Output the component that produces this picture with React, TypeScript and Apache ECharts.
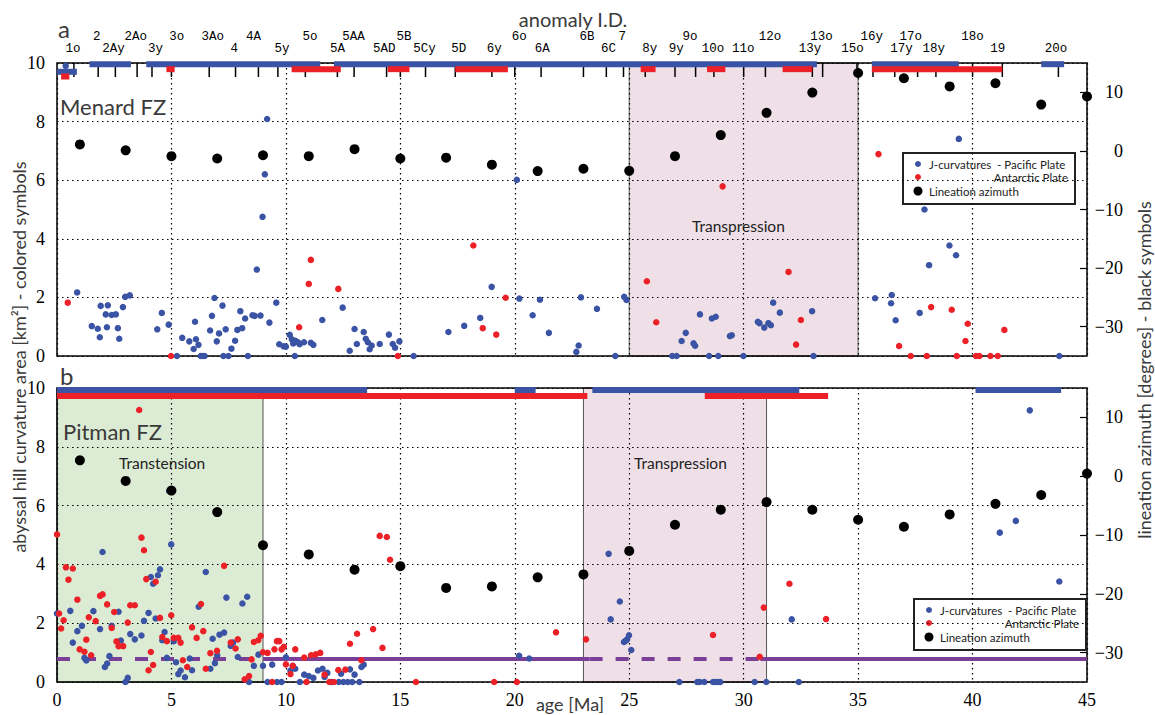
import React, { useEffect, useRef } from "react";
import * as echarts from "echarts";

// ---------- Data ----------
const anomalyNames = ["1o","2","2Ay","2Ao","3y","3o","3Ao","4","4A","5y","5o","5A","5AA","5AD","5B","5Cy","5D","6y","6o","6A","6B","6C","7","8y","9y","9o","10o","11o","12o","13y","13o","15o","16y","17y","17o","18y","18o","19","20o"];
const anomalyTicks = [0.74,1.8,2.55,3.5,4.15,5.0,6.65,7.8,8.8,9.65,10.85,12.25,12.98,14.4,15.0,16.1,17.4,19.0,20.0,21.15,23.0,24.0,24.75,25.7,27.0,27.9,28.7,30.0,30.95,33.0,33.45,34.95,35.65,36.6,37.6,38.4,40.0,41.3,43.75];
const anomalyLabelAges = [0.7,1.74,2.47,3.44,4.3,5.23,6.8,7.74,8.58,9.83,11.05,12.25,12.95,14.3,15.16,16.06,17.55,19.1,20.2,21.2,23.15,24.1,24.7,25.9,27.06,27.65,28.66,29.98,31.15,32.9,33.4,34.75,35.6,36.9,37.3,38.3,40.0,41.1,43.65];
const anomalyRows = [1,0,1,0,1,0,0,1,0,1,0,1,0,1,0,1,1,1,0,1,0,1,0,1,1,0,1,1,0,1,0,1,0,1,0,1,0,1,1];

// Menard FZ (panel a)
const blueA: number[][] = [[0.38,9.9],[0.88,2.17],[1.52,1.02],[1.78,0.93],[1.87,0.64],[1.91,1.71],[2.13,1.42],[2.18,0.98],[2.22,1.73],[2.39,1.40],[2.57,1.42],[2.66,0.95],[2.72,0.59],[2.88,1.67],[2.98,2.02],[3.18,2.07],[4.38,0.91],[4.58,1.47],[4.88,1.07],[5.24,0],[5.47,0.62],[5.78,0.50],[5.97,0.24],[6.03,1.17],[6.07,0.57],[6.18,0.38],[6.28,0],[6.36,0],[6.45,0],[6.69,0.87],[6.77,1.37],[6.88,1.98],[6.98,0.50],[7.08,0.77],[7.23,1.72],[7.27,0],[7.37,0.91],[7.49,0],[7.62,0.25],[7.78,0.52],[7.88,0.89],[8.01,1.53],[8.09,0.95],[8.22,1.28],[8.34,0],[8.54,1.39],[8.64,1.37],[8.73,2.95],[8.89,1.38],[8.98,4.75],[9.08,6.20],[9.18,8.09],[9.28,1.14],[9.58,1.82],[9.71,0.40],[9.90,0.33],[10.0,0.32],[10.17,0.72],[10.26,0.57],[10.32,0.43],[10.39,0],[10.42,0.52],[10.53,0.47],[10.6,0.40],[10.79,0.47],[11.09,0.45],[11.2,0.38],[11.59,1.23],[12.48,1.65],[12.79,0.18],[13.0,0.92],[13.1,0.41],[13.4,0.82],[13.49,0.59],[13.58,0.47],[13.66,0.23],[13.75,0.36],[14.1,0.41],[14.5,0.73],[14.67,0.41],[14.77,0.28],[14.96,0.5],[15.58,0],[17.1,0.82],[17.79,1.03],[18.49,1.30],[18.99,2.36],[20.09,6.01],[20.2,1.96],[20.78,1.39],[21.1,1.92],[21.49,0.79],[22.69,0.14],[22.79,0.36],[22.89,2.0],[23.59,1.61],[24.39,0],[24.78,2.02],[24.88,1.91],[26.88,0],[27.07,0],[27.29,0.51],[27.47,0.79],[27.81,0.43],[27.88,0.35],[28.09,1.42],[28.49,0],[28.61,1.28],[28.78,1.34],[28.89,0],[29.4,0.68],[29.48,0.71],[29.99,0],[30.62,1.17],[30.69,1.12],[30.9,0.97],[31.08,1.12],[31.19,1.05],[31.29,1.82],[31.58,1.48],[32.99,1.53],[33.05,0],[35.74,1.97],[36.44,1.8],[36.47,2.08],[36.64,1.22],[37.69,1.47],[37.9,5.0],[38.1,3.1],[38.99,3.77],[39.28,3.44],[39.4,7.41],[43.79,0]];
const redA: number[][] = [[0.47,1.82],[4.98,0],[10.58,0.98],[11.0,2.46],[11.09,3.28],[12.29,2.29],[14.89,0],[18.19,3.77],[18.6,0.95],[19.19,0.73],[19.6,1.99],[25.77,2.55],[26.18,1.15],[29.08,5.79],[31.96,2.87],[32.29,0.39],[32.5,1.23],[35.89,6.89],[36.79,0.34],[37.3,0],[38.0,0],[38.19,1.67],[39.09,1.58],[39.31,0],[39.69,0.51],[39.79,1.1],[40.15,0],[40.3,0],[40.78,0],[41.1,0],[41.39,0.89]];
const azimuthA: number[][] = [[1,1.1],[3,0.1],[5,-0.9],[7,-1.3],[9,-0.75],[11,-0.9],[13,0.3],[15,-1.3],[17,-1.15],[19,-2.35],[21,-3.45],[23,-3.05],[25,-3.4],[27,-0.9],[29,2.7],[31,6.5],[33,9.95],[35,13.3],[37,12.4],[39,11.0],[41,11.55],[43,7.9],[45,9.3]];
const pacificBarsA: number[][] = [[0,0.87,9.7],[1.42,3.23,9.96],[3.9,11.5,9.96],[12.1,33.2,9.96],[35.6,39.4,9.96],[43.0,44.0,9.96]];
const antarcticBarsA: number[][] = [[0.18,0.54,9.54],[4.78,5.14,9.79],[10.25,12.4,9.79],[14.45,15.4,9.79],[17.4,19.7,9.79],[25.5,26.15,9.79],[28.4,29.2,9.79],[31.7,33.0,9.79],[35.6,41.3,9.79]];
const regionsA: number[][] = [[25,35]];

// Pitman FZ (panel b)
const blueB: number[][] = [[0,2.33],[0.58,2.42],[0.69,1.34],[0.89,1.73],[1.09,1.91],[1.2,0.82],[1.28,0.73],[1.59,2.41],[1.88,1.8],[1.99,4.42],[2.09,0.51],[2.19,0.63],[2.29,0.88],[2.39,1.91],[2.69,2.39],[2.79,1.41],[2.99,0],[3.09,0.14],[3.2,1.63],[3.4,1.45],[3.69,1.58],[3.8,2.08],[4.0,2.35],[4.1,3.57],[4.2,3.34],[4.31,2.16],[4.41,3.63],[4.5,3.83],[4.6,1.42],[4.7,1.7],[4.8,0.82],[4.9,6.5],[4.99,4.68],[5.1,1.39],[5.2,0.67],[5.3,0.27],[5.4,0.39],[5.59,0.16],[5.8,0.8],[5.9,0.4],[6.19,2.56],[6.5,3.74],[6.7,0.45],[6.8,1.47],[6.9,0.64],[7.0,0.91],[7.1,1.61],[7.3,1.68],[7.4,2.87],[7.59,1.23],[7.69,1.34],[7.9,0.85],[8.1,2.67],[8.31,2.9],[8.39,0],[8.6,0.55],[8.8,0.93],[9.0,0.55],[9.2,0],[9.4,0.59],[9.61,0],[9.81,0],[10.0,0.84],[10.2,0.39],[10.3,0.55],[10.41,0.45],[10.61,0],[10.8,0.25],[11.0,0.2],[11.2,0.14],[11.4,0.39],[11.6,0.45],[11.69,0.17],[11.81,0.31],[12.0,0],[12.31,0],[12.41,0.28],[12.51,0],[12.7,0],[12.8,0.43],[12.9,0],[13.0,0.25],[13.21,0],[13.3,0.51],[13.4,0.59],[20.19,0.89],[20.63,0.8],[24.1,4.36],[24.19,2.13],[24.59,2.74],[24.77,1.36],[24.84,1.40],[24.91,1.45],[24.99,1.59],[25.09,1.09],[27.19,0],[27.97,0],[28.08,0],[28.28,0],[28.66,0],[28.76,0],[28.87,0],[28.98,0],[30.48,0],[30.99,0],[32.1,2.13],[32.41,0],[41.19,5.08],[41.89,5.48],[42.5,9.24],[43.79,3.42]];
const redB: number[][] = [[0,5.02],[0.09,2.33],[0.18,1.82],[0.29,2.1],[0.39,3.9],[0.5,3.48],[0.69,3.86],[0.89,2.8],[0.99,1.11],[1.2,1.03],[1.28,1.44],[1.39,2.2],[1.49,0.91],[1.69,2.07],[1.88,2.93],[1.99,2.98],[2.19,2.64],[2.39,1.84],[2.5,2.38],[2.6,1.38],[2.69,1.22],[2.89,1.22],[3.09,2.02],[3.2,2.61],[3.4,2.61],[3.59,9.25],[3.69,4.91],[3.8,4.48],[3.9,3.5],[4.0,0.4],[4.1,1.02],[4.2,0.58],[4.31,3.41],[4.5,2.18],[4.6,1.53],[4.8,1.39],[4.99,2.27],[5.1,1.5],[5.3,1.5],[5.4,1.34],[5.5,0.74],[5.69,0.51],[5.9,1.86],[6.1,1.5],[6.29,2.65],[6.39,1.73],[6.5,0.45],[6.7,0.98],[6.99,1.06],[7.3,3.95],[7.59,1.34],[7.8,1.14],[7.9,1.45],[8.2,0.09],[8.39,0.2],[8.5,0.77],[8.6,1.36],[8.79,1.42],[8.9,1.57],[9.0,1.01],[9.2,0.99],[9.4,0],[9.5,1.11],[9.61,1.39],[9.71,1.39],[9.81,1.11],[9.91,1.2],[10.0,0.6],[10.2,0.27],[10.3,0.55],[10.41,1.11],[10.8,0.83],[10.9,0],[11.1,0.91],[11.3,0.94],[11.5,0.99],[11.69,0.25],[11.9,0],[12.1,0],[12.29,0.41],[12.6,0.42],[12.8,1.3],[13.11,1.64],[13.3,0.74],[13.81,1.8],[14.1,4.97],[14.22,1.16],[14.41,4.93],[14.55,4.16],[15.68,0],[19.1,0],[20.09,0],[21.8,1.69],[23.11,1.45],[28.66,1.6],[30.7,0.86],[30.88,2.53],[32.0,3.34],[33.6,2.14]];
const azimuthB: number[][] = [[1,2.7],[3,-0.8],[5,-2.45],[7,-6.1],[9,-11.75],[11,-13.3],[13,-15.9],[15,-15.3],[17,-19.0],[19,-18.75],[21,-17.2],[23,-16.7],[25,-12.7],[27,-8.25],[29,-5.7],[31,-4.4],[33,-5.7],[35,-7.4],[37,-8.6],[39,-6.5],[41,-4.7],[43,-3.2],[45,0.45]];
const pacificBarsB: number[][] = [[0,13.55,9.93],[20.0,20.91,9.93],[23.39,32.43,9.93],[40.13,43.87,9.93]];
const antarcticBarsB: number[][] = [[0,23.17,9.73],[28.3,33.69,9.73]];
const regionsB: number[][] = [[0,9],[23,31]];
const purpleSegments: number[][] = [[0,9,0.78,1],[9,23.27,0.78,0],[23.27,30.73,0.78,1],[30.73,45,0.78,0]]; // [x0,x1,y,dashed]

const rightTicks = [-30, -20, -10, 0, 10];

// ---------- Styles ----------
const BLUE = "#3a53a4";
const RED = "#ec2027";
const PURPLE = "#7b3f98";
const PINK = "#efdfe7";
const GREEN = "#dcebd3";
const SANS = "Lato";
const SERIF = "Liberation Serif";
const MONO = "Liberation Mono";
const TEXTGRAY = "#3a3a3a";

const fmtRight = (v: number) => (v % 10 !== 0 ? "" : v < 0 ? "\u2212" + Math.abs(v) : String(v));

function barSeries(data: number[][], color: string, gi: number, yi: number) {
  return {
    type: "custom",
    xAxisIndex: gi,
    yAxisIndex: yi,
    z: 4,
    clip: false,
    silent: true,
    data,
    encode: { x: [0, 1], y: 2 },
    renderItem: (params: any, api: any) => {
      const a = api.coord([api.value(0), api.value(2)]);
      const b = api.coord([api.value(1), api.value(2)]);
      return { type: "rect", shape: { x: a[0], y: a[1] - 3, width: b[0] - a[0], height: 6 }, style: { fill: color } };
    },
  };
}

function regionSeries(data: number[][], colors: string[], gi: number, yi: number) {
  return {
    type: "custom",
    xAxisIndex: gi,
    yAxisIndex: yi,
    z: -1,
    silent: true,
    data,
    encode: { x: [0, 1] },
    renderItem: (params: any, api: any) => {
      const a = api.coord([api.value(0), 10]);
      const b = api.coord([api.value(1), 0]);
      return {
        type: "rect",
        shape: { x: a[0], y: a[1], width: b[0] - a[0], height: b[1] - a[1] },
        style: { fill: colors[params.dataIndex], stroke: "#555", lineWidth: 1 },
      };
    },
  };
}

function scatter(data: number[][], color: string, size: number, gi: number, yi: number, z: number) {
  return {
    type: "scatter",
    xAxisIndex: gi,
    yAxisIndex: yi,
    data,
    symbolSize: size,
    itemStyle: { color, opacity: 1 },
    z,
    silent: true,
  };
}

function legendGraphic(x: number, y: number) {
  const items: any[] = [
    { type: "rect", shape: { x, y, width: 172, height: 51 }, style: { fill: "#fff", stroke: "#222", lineWidth: 2 } },
    { type: "circle", shape: { cx: x + 15, cy: y + 11, r: 3 }, style: { fill: BLUE } },
    { type: "circle", shape: { cx: x + 15, cy: y + 24, r: 3 }, style: { fill: RED } },
    { type: "circle", shape: { cx: x + 15, cy: y + 38, r: 4.5 }, style: { fill: "#000" } },
    { type: "text", x: x + 26, y: y + 11, style: { text: "J-curvatures  - Pacific Plate", font: `11.5px ${SANS}`, fill: "#222", verticalAlign: "middle" } },
    { type: "text", x: x + 165, y: y + 24, style: { text: "Antarctic Plate", font: `11.5px ${SANS}`, fill: "#222", align: "right", verticalAlign: "middle" } },
    { type: "text", x: x + 26, y: y + 38, style: { text: "Lineation azimuth", font: `11.5px ${SANS}`, fill: "#222", verticalAlign: "middle" } },
  ];
  return { type: "group", z: 100, children: items };
}

const splitLineStyle = { color: "#000", type: [1.5, 3.5], width: 1.2 };

function buildOption() {
  const xBase = {
    type: "value",
    min: 0,
    max: 45,
    interval: 5,
    axisLine: { show: false },
    axisTick: { show: false },
    splitLine: { show: true, lineStyle: splitLineStyle },
  };
  const yLeft = (gi: number) => ({
    type: "value",
    gridIndex: gi,
    min: 0,
    max: 10,
    interval: 2,
    position: "left",
    axisLine: { show: false },
    axisTick: { show: false },
    axisLabel: { fontFamily: SERIF, fontSize: 18, color: "#000", margin: 12 },
    splitLine: { show: true, lineStyle: splitLineStyle },
  });
  const yRight = (gi: number) => ({
    type: "value",
    gridIndex: gi,
    min: -35,
    max: 15,
    interval: 5,
    position: "right",
    axisLine: { show: false },
    axisTick: { show: true, inside: true, length: 7, customValues: rightTicks, lineStyle: { color: "#000", width: 1.2 } },
    axisLabel: { fontFamily: SERIF, fontSize: 18, color: "#000", margin: 36, align: "right", customValues: rightTicks, formatter: fmtRight },
    splitLine: { show: false },
  });

  const anomalyData = anomalyTicks.map((t, i) => [t, anomalyLabelAges[i], anomalyRows[i]]);

  const series: any[] = [
    regionSeries(regionsA, [PINK], 0, 0),
    regionSeries(regionsB, [GREEN, PINK], 1, 2),
    {
      type: "custom",
      xAxisIndex: 0,
      yAxisIndex: 0,
      z: 3,
      clip: false,
      silent: true,
      data: anomalyData,
      encode: { x: [0, 1] },
      renderItem: (params: any, api: any) => {
        const t = api.coord([api.value(0), 10]);
        const l = api.coord([api.value(1), 10]);
        const row = api.value(2);
        return {
          type: "group",
          children: [
            { type: "line", shape: { x1: t[0], y1: t[1], x2: t[0], y2: t[1] + 14 }, style: { stroke: "#000", lineWidth: 1.5 } },
            {
              type: "text",
              x: l[0],
              y: t[1] + (row === 0 ? -26.5 : -14.5),
              style: { text: anomalyNames[params.dataIndex], font: `12.5px "${MONO}"`, lineHeight: 12, fill: "#000", align: "center", verticalAlign: "middle" },
            },
          ],
        };
      },
    },
    barSeries(pacificBarsA, BLUE, 0, 0),
    barSeries(antarcticBarsA, RED, 0, 0),
    barSeries(pacificBarsB, BLUE, 1, 2),
    barSeries(antarcticBarsB, RED, 1, 2),
    ...purpleSegments.map((s) => ({
      type: "line",
      xAxisIndex: 1,
      yAxisIndex: 2,
      data: [[s[0], s[2]], [s[1], s[2]]],
      symbol: "none",
      silent: true,
      z: 3,
      lineStyle: { color: PURPLE, width: 4, type: s[3] ? [13, 13] : "solid" },
    })),
    scatter(blueA, BLUE, 6.5, 0, 0, 5),
    scatter(redA, RED, 6.5, 0, 0, 5),
    scatter(azimuthA, "#000", 10, 0, 1, 6),
    scatter(blueB, BLUE, 6.5, 1, 2, 5),
    scatter(redB, RED, 6.5, 1, 2, 5),
    scatter(azimuthB, "#000", 10, 1, 3, 6),
  ];

  const textEl = (text: string, x: number, y: number, size: number, opts: any = {}) => ({
    type: "text",
    x,
    y,
    z: 50,
    rotation: opts.rotation || 0,
    style: {
      text,
      font: `${size}px ${SANS}`,
      fill: opts.fill || TEXTGRAY,
      align: opts.align || "left",
      verticalAlign: "middle",
    },
  });

  return {
    animation: false,
    textStyle: { fontFamily: SANS },
    grid: [
      { left: 57, top: 63, width: 1030, height: 293, show: true, borderColor: "#000", borderWidth: 1.5, backgroundColor: "transparent" },
      { left: 57, top: 388, width: 1030, height: 294, show: true, borderColor: "#000", borderWidth: 1.5, backgroundColor: "transparent" },
    ],
    xAxis: [
      { ...xBase, gridIndex: 0, axisLabel: { show: false } },
      { ...xBase, gridIndex: 1, axisLabel: { show: true, fontFamily: SERIF, fontSize: 18, color: "#000", margin: 9 } },
    ],
    yAxis: [yLeft(0), yRight(0), yLeft(1), yRight(1)],
    series,
    graphic: [
      textEl("anomaly I.D.", 573, 19, 20, { align: "center" }),
      textEl("a", 58, 28, 24),
      textEl("b", 60, 375, 24),
      textEl("Menard FZ", 60, 106, 22),
      textEl("Pitman FZ", 63, 431, 22),
      textEl("Transtension", 119, 463, 15.5, { fill: "#222" }),
      textEl("Transpression", 692, 226, 15.5, { fill: "#222" }),
      textEl("Transpression", 634, 463, 15.5, { fill: "#222" }),
      textEl("age [Ma]", 570, 704, 18, { align: "center" }),
      textEl("abyssal hill curvature area [km\u00b2] - colored symbols", 19, 357, 18, { align: "center", rotation: Math.PI / 2 }),
      textEl("lineation azimuth [degrees] - black symbols", 1144, 370, 18, { align: "center", rotation: Math.PI / 2 }),
      legendGraphic(903, 153),
      legendGraphic(914, 599),
    ],
  };
}

export default function App() {
  const ref = useRef<HTMLDivElement>(null);
  useEffect(() => {
    document.body.style.margin = "0";
    const chart = echarts.init(ref.current!, null, { renderer: "svg" });
    chart.setOption(buildOption() as any);
    return () => chart.dispose();
  }, []);
  return <div ref={ref} style={{ width: 1155, height: 715 }} />;
}
